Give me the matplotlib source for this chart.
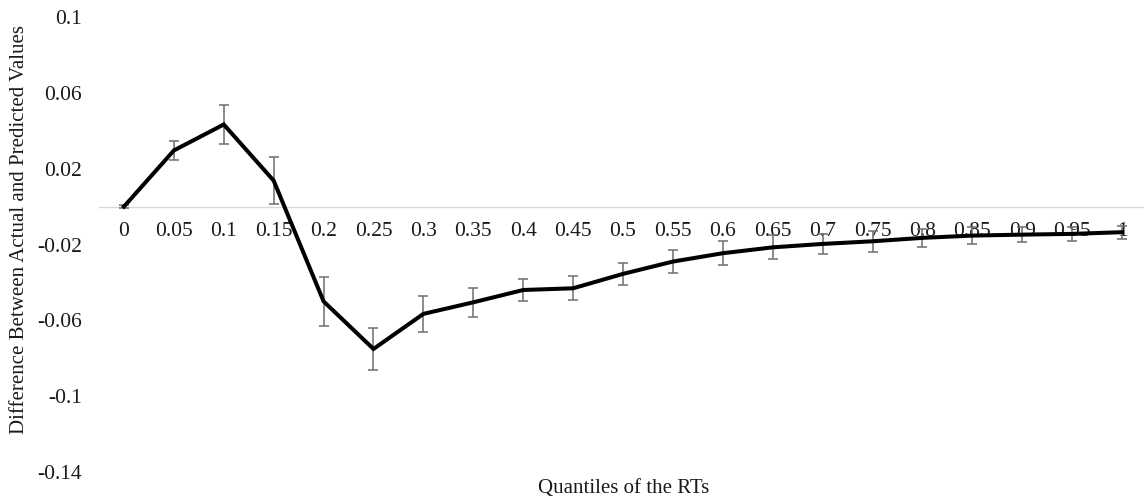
import numpy as np
import matplotlib
matplotlib.use('Agg')
import matplotlib.pyplot as plt

plt.rcParams['font.family'] = ['Liberation Serif', 'DejaVu Serif']

quantiles = ['0', '0.05', '0.1', '0.15', '0.2', '0.25', '0.3', '0.35', '0.4', '0.45', '0.5',
             '0.55', '0.6', '0.65', '0.7', '0.75', '0.8', '0.85', '0.9', '0.95', '1']
diff = [0.0, 0.0296, 0.0433, 0.0137, -0.050, -0.0751, -0.0566, -0.0505, -0.044, -0.0431,
        -0.0355, -0.029, -0.0246, -0.0215, -0.0197, -0.0183, -0.0165, -0.0153, -0.0148,
        -0.0144, -0.0135]
err = [0.001, 0.005, 0.0105, 0.0125, 0.013, 0.0113, 0.0094, 0.0075, 0.006, 0.0063,
       0.0059, 0.006, 0.0062, 0.0063, 0.0053, 0.0055, 0.0047, 0.0046, 0.0039, 0.0035, 0.0035]
yticks = [-0.14, -0.1, -0.06, -0.02, 0.02, 0.06, 0.1]
ytick_labels = ['-0.14', '-0.1', '-0.06', '-0.02', '0.02', '0.06', '0.1']

W, H = 1144, 497
fig = plt.figure(figsize=(W / 100, H / 100), dpi=100)
ax = fig.add_axes([99 / W, (H - 472) / H, (1147 - 99) / W, (472 - 17) / H])

x = np.arange(len(quantiles))
ax.errorbar(x, diff, yerr=err, fmt='none', ecolor='#6e6e6e', elinewidth=1.1,
            capsize=3.5, capthick=1.1, zorder=2)
ax.plot(x, diff, color='black', linewidth=2.9, zorder=3, solid_joinstyle='miter')

ax.set_xlim(-0.5, len(quantiles) - 0.5)
ax.set_ylim(-0.14, 0.1)
ax.set_yticks(yticks)
ax.set_yticklabels(ytick_labels)
ax.set_xticks(x)
ax.set_xticklabels(quantiles)

for s in ['top', 'right', 'left']:
    ax.spines[s].set_visible(False)
ax.spines['bottom'].set_position(('data', 0))
ax.spines['bottom'].set_color('#d9d9d9')
ax.spines['bottom'].set_linewidth(1.0)
ax.spines['bottom'].set_zorder(1)

ax.tick_params(axis='y', length=0, pad=12.5, labelsize=15.5, labelcolor='#1a1a1a')
ax.tick_params(axis='x', length=0, pad=11, labelsize=15.5, labelcolor='#1a1a1a')
for lab in ax.get_xticklabels():
    lab.set_zorder(2.5)

fig.text(20 / W, 1 - 230 / H, 'Difference Between Actual and Predicted Values',
         rotation=90, ha='center', va='center', fontsize=15, color='#1a1a1a')
fig.text(624 / W, 1 - 488 / H, 'Quantiles of the RTs', ha='center', va='center',
         fontsize=15, color='#1a1a1a')

fig.savefig('out.png', dpi=100)
